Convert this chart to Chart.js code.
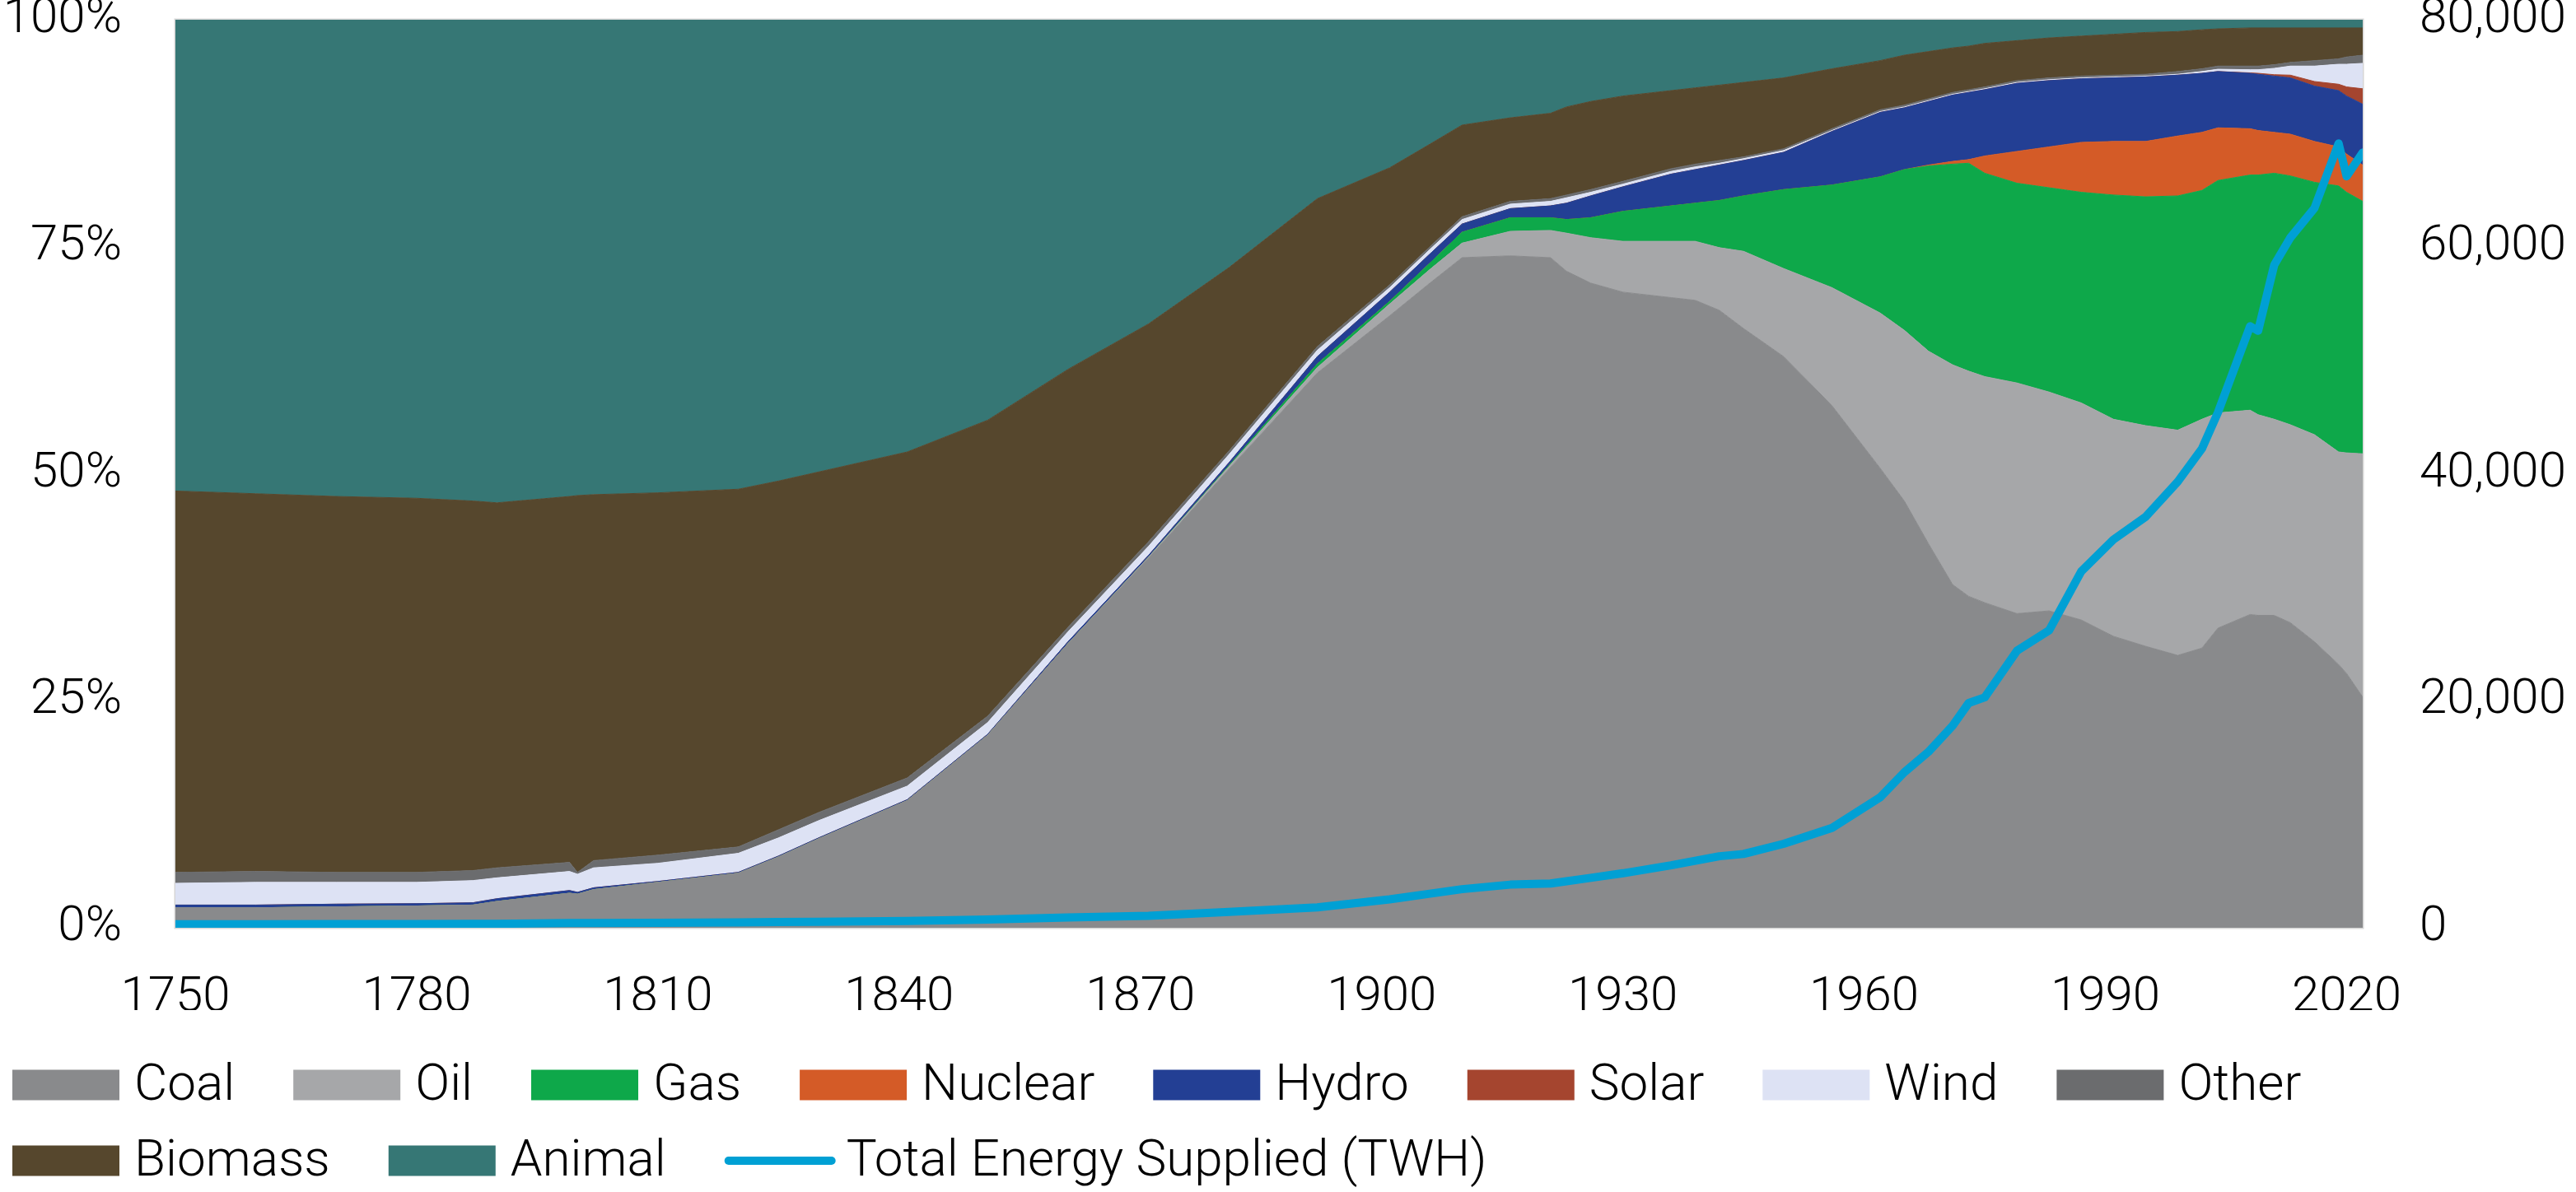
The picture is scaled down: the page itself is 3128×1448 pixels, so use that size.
<!DOCTYPE html>
<html>
<head>
<meta charset="utf-8">
<script src="https://cdn.jsdelivr.net/npm/chart.js@4.4.0/dist/chart.umd.min.js"></script>
<style>
  html, body { margin: 0; padding: 0; background: #ffffff; }
  #wrap { width: 3128px; height: 1448px; position: relative; }
  canvas { display: block; }
</style>
</head>
<body>
<div id="wrap"><canvas id="chart" width="3128" height="1448"></canvas></div>
<script>
// ---- DATA (shares of total energy, %) ----
const years = [1750,1760,1770,1780,1787,1790,1799,1800,1802,1810,1820,1825,1830,1841,1851,1861,1871,1881,1892,1901,1906,1910,1916,1921,1923,1926,1930,1936,1939,1942,1945,1950,1956,1962,1965,1968,1971,1973,1975,1979,1983,1987,1991,1995,1999,2002,2004,2008,2009,2011,2013,2016,2019,2020,2022];

const coal    = [2.2,2.2,2.3,2.4,2.5,2.9,3.8,3.7,4.2,5.0,6.0,7.8,9.8,14.0,21.2,31.3,40.7,50.5,61.1,67.4,71.0,73.8,74.0,73.8,72.3,71.0,70.0,69.4,69.1,68.0,66.0,62.9,57.5,50.6,47.0,42.3,37.8,36.5,35.8,34.6,34.9,33.9,32.1,31.0,30.0,30.8,33.0,34.5,34.4,34.4,33.6,31.5,29.0,28.0,25.4];
const oil     = [0,0,0,0,0,0,0,0,0,0,0,0,0,0,0,0,0.1,0.3,0.6,1.3,1.5,1.6,2.7,3.0,4.2,5.0,5.6,6.2,6.5,6.9,8.5,9.7,13.0,17.1,18.8,21.2,24.2,24.8,24.9,25.4,24.1,23.9,23.9,24.3,24.8,25.2,23.7,22.5,22.1,21.6,21.8,22.8,23.4,24.3,26.8];
const gas     = [0,0,0,0,0,0,0,0,0,0,0,0,0,0,0,0,0,0.1,0.4,0.3,0.7,1.2,1.5,1.4,1.5,2.2,3.3,3.9,4.2,5.2,6.1,8.7,11.3,15.0,17.7,20.4,22.1,22.9,22.4,22.0,22.5,23.2,24.7,25.2,25.8,25.2,25.6,25.9,26.4,27.1,27.4,27.8,29.3,28.7,27.8];
const nuclear = [0,0,0,0,0,0,0,0,0,0,0,0,0,0,0,0,0,0,0,0,0,0,0,0,0,0,0,0,0,0,0,0,0,0,0,0.1,0.3,0.4,1.9,3.5,4.5,5.5,5.9,6.1,6.6,6.4,5.8,5.1,4.9,4.5,4.6,4.5,4.3,4.2,4.0];
const hydro   = [0.3,0.3,0.3,0.25,0.25,0.3,0.3,0.2,0.2,0.1,0.1,0.1,0.1,0.1,0.1,0.2,0.2,0.3,0.8,1.0,1.0,0.9,1.0,1.3,1.8,2.4,2.7,3.5,3.7,3.9,3.9,4.1,5.9,7.1,6.8,7.0,7.3,7.4,7.3,7.5,7.3,7.0,7.0,7.1,6.7,6.5,6.2,6.1,6.2,6.2,6.2,6.1,6.2,6.4,6.7];
const solar   = [0,0,0,0,0,0,0,0,0,0,0,0,0,0,0,0,0,0,0,0,0,0,0,0,0,0,0,0,0,0,0,0,0,0,0,0,0,0,0,0,0,0,0,0,0,0,0,0.05,0.1,0.15,0.3,0.5,0.7,1.0,1.7];
const wind    = [2.4,2.5,2.4,2.35,2.45,2.3,2.1,2.0,2.2,2.0,2.1,2.0,1.9,1.5,1.3,1.1,1.0,0.9,0.7,0.5,0.5,0.5,0.5,0.5,0.6,0.4,0.3,0.3,0.3,0.2,0.2,0.2,0.1,0.1,0.1,0.1,0.1,0.1,0.1,0.1,0.1,0.1,0.1,0.1,0.1,0.2,0.25,0.35,0.4,0.7,1.0,1.7,2.2,2.5,2.8];
const other   = [1.2,1.2,1.1,1.1,1.1,1.1,1.0,0.2,0.8,0.9,0.7,0.9,0.9,0.9,0.7,0.5,0.5,0.4,0.4,0.3,0.3,0.3,0.3,0.3,0.3,0.3,0.3,0.3,0.3,0.3,0.2,0.2,0.2,0.2,0.2,0.2,0.2,0.2,0.2,0.2,0.2,0.2,0.2,0.2,0.3,0.3,0.35,0.4,0.4,0.4,0.4,0.6,0.6,0.8,0.9];
const biomass = [42.0,41.6,41.4,41.2,40.7,40.2,40.3,41.5,40.3,39.9,39.4,38.4,37.5,35.9,32.6,28.4,24.0,20.2,16.3,12.9,11.3,10.1,9.2,9.4,9.7,9.7,9.4,8.6,8.4,8.3,8.2,7.8,6.6,5.4,5.5,5.2,4.9,4.8,4.8,4.4,4.4,4.4,4.5,4.6,4.4,4.3,4.1,4.2,4.2,4.05,3.8,3.6,3.4,3.2,3.0];
const animal  = [51.9,52.2,52.5,52.7,53.0,53.2,52.5,52.4,52.3,52.1,51.7,50.8,49.8,47.6,44.1,38.5,33.5,27.3,19.7,16.3,13.7,11.6,10.8,10.3,9.6,9.0,8.4,7.8,7.5,7.2,6.9,6.4,5.4,4.5,3.9,3.5,3.1,2.9,2.6,2.3,2.0,1.8,1.6,1.4,1.3,1.1,1.0,0.9,0.9,0.9,0.9,0.9,0.9,0.9,0.9];

// Total energy supplied (TWh), right axis
const totalTWh = [300,310,320,330,340,350,410,420,425,440,480,500,530,600,720,900,1050,1400,1800,2500,3000,3400,3800,3900,4100,4400,4800,5500,5900,6300,6500,7400,8800,11500,13700,15500,17800,19800,20300,24400,26200,31400,34200,36200,39300,42200,45400,53000,52600,58400,60800,63400,69100,66200,68300];

const seriesNames  = ['Coal','Oil','Gas','Nuclear','Hydro','Solar','Wind','Other','Biomass','Animal'];
const seriesValues = [coal, oil, gas, nuclear, hydro, solar, wind, other, biomass, animal];
const seriesColors = ['#898a8c','#a6a7a9','#0ea84a','#d45b27','#233f94','#a5452f','#dde2f4','#6b6c6e','#56472d','#367775'];
const lineName  = 'Total Energy Supplied (TWH)';
const lineColor = '#00a0d4';

const xTickLabels  = [1750,1780,1810,1840,1870,1900,1930,1960,1990,2020];
const yTickLabels  = [0,25,50,75,100];
const y1TickLabels = [0,20000,40000,60000,80000];

// ---- build datasets ----
const toPoints = arr => arr.map((v, i) => ({ x: years[i], y: v }));
const datasets = seriesNames.map((name, i) => ({
  label: name,
  data: toPoints(seriesValues[i]),
  backgroundColor: seriesColors[i],
  borderColor: seriesColors[i],
  borderWidth: 1,
  pointRadius: 0,
  tension: 0,
  fill: i === 0 ? 'origin' : '-1',
  yAxisID: 'y',
  order: 1
}));
datasets.push({
  label: lineName,
  data: toPoints(totalTWh),
  borderColor: lineColor,
  backgroundColor: lineColor,
  borderWidth: 10,
  borderCapStyle: 'round',
  borderJoinStyle: 'round',
  pointRadius: 0,
  tension: 0,
  fill: false,
  yAxisID: 'y1',
  order: 0
});

const FONT = 'Roboto';
Chart.defaults.font.family = FONT;
Chart.defaults.font.weight = 300;
Chart.defaults.font.size = 60;
Chart.defaults.color = '#000000';

// plot frame
const framePlugin = {
  id: 'frame',
  beforeDatasetsDraw(chart) {
    const { ctx, chartArea: a } = chart;
    ctx.save();
    ctx.strokeStyle = '#d6d6d6';
    ctx.lineWidth = 3;
    ctx.strokeRect(a.left, a.top, a.right - a.left, a.bottom - a.top);
    ctx.restore();
  }
};

// legend drawn below the axis
const legendPlugin = {
  id: 'customLegend',
  afterDraw(chart) {
    const ctx = chart.ctx;
    ctx.save();
    ctx.font = '300 62px ' + FONT;
    ctx.textBaseline = 'middle';
    ctx.textAlign = 'left';
    const rowY = [1318, 1410];
    const boxW = 130, boxH = 37, gapText = 18, gapItem = 71;
    let x = 15, row = 0;
    chart.data.datasets.forEach((ds) => {
      const tw = ctx.measureText(ds.label).width;
      const w = boxW + gapText + tw;
      if (x + w > chart.width && x > 15) { row++; x = 15; }
      const cy = rowY[Math.min(row, rowY.length - 1)];
      if (ds.yAxisID === 'y1') {
        ctx.strokeStyle = ds.borderColor;
        ctx.lineWidth = 10;
        ctx.lineCap = 'round';
        ctx.beginPath();
        ctx.moveTo(x + 5, cy);
        ctx.lineTo(x + boxW, cy);
        ctx.stroke();
      } else {
        ctx.fillStyle = ds.backgroundColor;
        ctx.fillRect(x, cy - boxH / 2, boxW, boxH);
      }
      ctx.fillStyle = '#000000';
      ctx.fillText(ds.label, x + boxW + gapText, cy + 2);
      x += w + gapItem;
    });
    ctx.restore();
  }
};

new Chart(document.getElementById('chart'), {
  type: 'line',
  data: { datasets },
  plugins: [framePlugin, legendPlugin],
  options: {
    responsive: false,
    animation: false,
    devicePixelRatio: 1,
    layout: { padding: { left: 0, right: 0, top: 0, bottom: 221 } },
    plugins: { legend: { display: false }, tooltip: { enabled: false } },
    elements: { point: { radius: 0 } },
    scales: {
      x: {
        type: 'linear',
        min: 1750,
        max: 2022,
        grid: { display: false, drawTicks: false },
        border: { display: false },
        ticks: {
          padding: 50,
          autoSkip: false,
          maxRotation: 0,
          color: '#000000',
          font: { size: 60, weight: 300 },
          callback: v => String(v)
        },
        afterBuildTicks: s => { s.ticks = xTickLabels.map(v => ({ value: v })); },
        afterFit: s => { s.height = 100; s.paddingLeft = 0; s.paddingRight = 0; }
      },
      y: {
        type: 'linear',
        position: 'left',
        stacked: true,
        min: 0,
        max: 100,
        grid: { display: false, drawTicks: false },
        border: { display: false },
        ticks: {
          padding: 65,
          color: '#000000',
          font: { size: 60, weight: 300 },
          callback: v => v + '%'
        },
        afterBuildTicks: s => { s.ticks = yTickLabels.map(v => ({ value: v })); },
        afterFit: s => { s.width = 213; s.paddingTop = 24; s.paddingBottom = 0; }
      },
      y1: {
        type: 'linear',
        position: 'right',
        min: 0,
        max: 80000,
        grid: { display: false, drawTicks: false },
        border: { display: false },
        ticks: {
          padding: 69,
          color: '#000000',
          font: { size: 60, weight: 300 },
          callback: v => v.toLocaleString('en-US')
        },
        afterBuildTicks: s => { s.ticks = y1TickLabels.map(v => ({ value: v })); },
        afterFit: s => { s.width = 259; s.paddingTop = 24; s.paddingBottom = 0; }
      }
    }
  }
});
</script>
</body>
</html>
